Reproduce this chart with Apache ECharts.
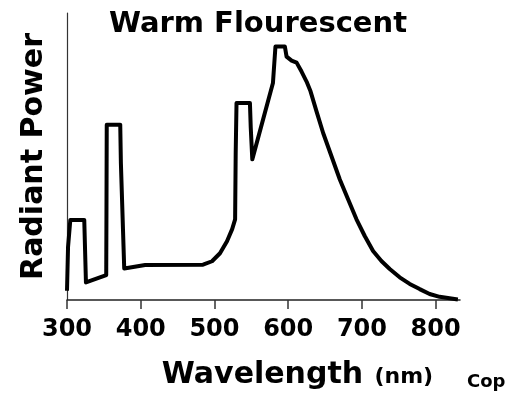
<!DOCTYPE html>
<html>
<head>
<meta charset="utf-8">
<script src="https://cdn.jsdelivr.net/npm/echarts@6/dist/echarts.min.js"></script>
<style>
html,body{margin:0;padding:0;background:#fff;}
#chart{width:510px;height:395px;}
</style>
</head>
<body>
<div id="chart"></div>
<script>
// Data (wavelength in nm, relative radiant power 0-100)
var wavelengths = [300, 301.4, 304.5, 323.4, 325.7, 353.2, 353.5, 353.9, 372.2, 373.1, 377.6, 406, 484.5, 496.7, 507.5, 517, 524, 528, 528.8, 529.9, 548.1, 549.2, 551.3, 579.3, 582.7, 595.5, 597.8, 604.6, 611.4, 618.1, 624.9, 630.3, 638.4, 647.4, 658.7, 670, 681.2, 692.6, 703.8, 715.1, 726.4, 737.7, 751.2, 764.8, 778.3, 791.8, 805.4, 818.9, 830.1];
var power = [3.2, 18.4, 27.9, 27.9, 6.1, 8.7, 29.3, 61.1, 61.1, 47.6, 11.0, 12.2, 12.3, 13.5, 16.3, 20.5, 24.7, 28.1, 51.4, 68.6, 68.6, 60.1, 49.0, 75.6, 88.3, 88.3, 84.8, 83.4, 82.7, 79.6, 76.1, 72.7, 65.7, 58.2, 50.1, 42.0, 35.1, 28.1, 22.3, 17.1, 13.6, 10.8, 7.9, 5.6, 3.8, 2.1, 1.1, 0.6, 0.2];
var xTicks = [300, 400, 500, 600, 700, 800];
var titleText = 'Warm Flourescent';
var yName = 'Radiant Power';
var xName = 'Wavelength';
var xUnit = '(nm)';
var copyText = 'Cop';

var seriesData = wavelengths.map(function (w, i) { return [w, power[i]]; });
var font = 'DejaVu Sans';

var chart = echarts.init(document.getElementById('chart'));
chart.setOption({
  backgroundColor: '#ffffff',
  animation: false,
  title: {
    text: titleText,
    left: 258,
    top: 10,
    textAlign: 'center',
    padding: 0,
    textStyle: { fontFamily: font, fontWeight: 'bold', fontSize: 29, color: '#000' }
  },
  grid: { left: 67, right: 50, top: 13, bottom: 94, containLabel: false },
  xAxis: {
    type: 'value',
    min: 300,
    max: 833,
    interval: 100,
    splitLine: { show: false },
    axisLine: { show: true, lineStyle: { color: '#222', width: 1.5 } },
    axisTick: { show: true, length: 9, customValues: xTicks, lineStyle: { color: '#333', width: 1.5 } },
    axisLabel: {
      customValues: xTicks,
      margin: 18,
      fontFamily: font, fontWeight: 'bold', fontSize: 24, color: '#000'
    },
    name: '{a|' + xName + '} {b|' + xUnit + '}',
    nameLocation: 'middle',
    nameGap: 60,
    nameTextStyle: {
      padding: [0, 0, 0, 68],
      rich: {
        a: { fontFamily: font, fontWeight: 'bold', fontSize: 30, color: '#000' },
        b: { fontFamily: font, fontWeight: 'bold', fontSize: 22, color: '#000', padding: [4, 0, 0, 8] }
      }
    }
  },
  yAxis: {
    type: 'value',
    min: 0,
    max: 100,
    splitLine: { show: false },
    axisLine: { show: true, lineStyle: { color: '#333', width: 1.2 } },
    axisTick: { show: false },
    axisLabel: { show: false },
    name: yName,
    nameLocation: 'middle',
    nameGap: 18,
    nameTextStyle: { fontFamily: font, fontWeight: 'bold', fontSize: 30, color: '#000' }
  },
  graphic: [{
    type: 'text',
    left: 467,
    top: 373,
    style: { text: copyText, font: 'bold 18px "DejaVu Sans"', fill: '#000' }
  }],
  series: [{
    type: 'line',
    data: seriesData,
    showSymbol: false,
    clip: false,
    lineStyle: { color: '#000', width: 4, join: 'round' }
  }]
});
</script>
</body>
</html>
